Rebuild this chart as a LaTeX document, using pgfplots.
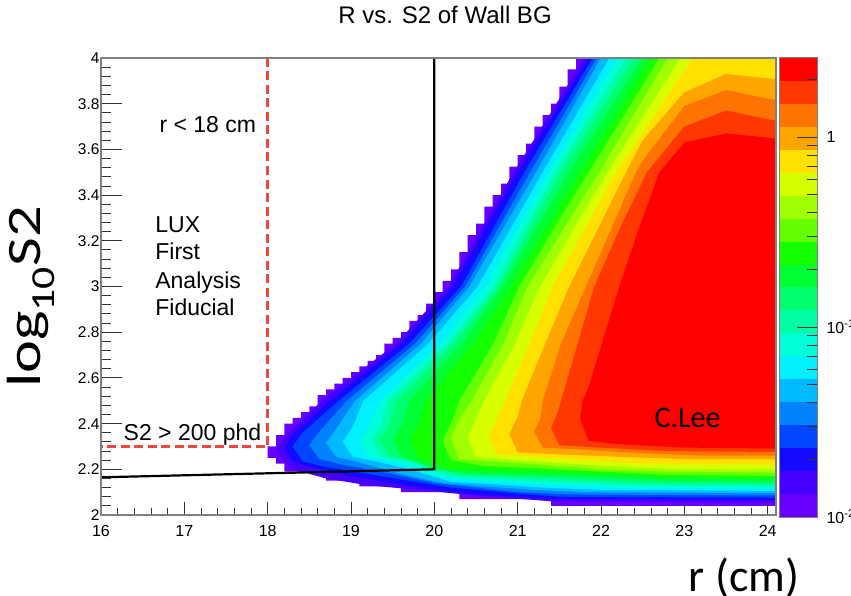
\documentclass[border=0pt]{standalone}
\usepackage{pgfplots}
\pgfplotsset{compat=1.18}
\usepackage{fontspec}
\setmainfont{Liberation Sans}
\newfontfamily\calfont{Carlito}
\definecolor{cA}{RGB}{105,0,255}
\definecolor{cB}{RGB}{70,0,255}
\definecolor{cC}{RGB}{20,10,255}
\definecolor{cD}{RGB}{0,70,255}
\definecolor{cE}{RGB}{0,130,255}
\definecolor{cF}{RGB}{0,185,255}
\definecolor{cG}{RGB}{0,240,255}
\definecolor{cH}{RGB}{0,255,215}
\definecolor{cI}{RGB}{0,255,165}
\definecolor{cJ}{RGB}{0,255,110}
\definecolor{cK}{RGB}{0,255,50}
\definecolor{cL}{RGB}{20,255,0}
\definecolor{cM}{RGB}{100,255,0}
\definecolor{cN}{RGB}{160,255,0}
\definecolor{cO}{RGB}{215,255,0}
\definecolor{cP}{RGB}{255,225,0}
\definecolor{cQ}{RGB}{255,165,0}
\definecolor{cR}{RGB}{255,115,0}
\definecolor{cS}{RGB}{255,55,0}
\definecolor{cT}{RGB}{255,0,0}
\definecolor{cutred}{RGB}{240,70,60}
\begin{document}
\begin{tikzpicture}
\begin{axis}[
 at={(101pt,80pt)}, anchor=south west, width=675pt, height=457pt, scale only axis,
 xmin=16, xmax=24.1, ymin=2, ymax=4,
 xtick={16,17,18,19,20,21,22,23,24},
 ytick={2,2.2,2.4,2.6,2.8,3,3.2,3.4,3.6,3.8,4},
 minor x tick num=4, minor y tick num=4,
 tick align=inside, xtick pos=left, ytick pos=left,
 xtick style={/pgfplots/major tick length=13pt,/pgfplots/minor tick length=7pt, black!80, line width=0.9pt},
 ytick style={/pgfplots/major tick length=21pt,/pgfplots/minor tick length=10pt, black!80, line width=0.9pt},
 axis line style={black!50, line width=1.2pt},
 /pgf/number format/assume math mode=true,
 xticklabel style={font=\fontsize{16}{16}\selectfont, yshift=-7pt},
 yticklabel style={font=\fontsize{15.5}{15.5}\selectfont, xshift=2pt},
 axis on top,
]
% level 1 (outermost, stepped edges)
\addplot[fill=cA, draw=none] coordinates {
(18.0,2.25) (18.1,2.25) (18.1,2.225) (18.2,2.225) (18.2,2.19) (18.7,2.19) (18.7,2.15) (19.1,2.15) (19.1,2.125) (19.6,2.125) (19.6,2.10) (20.3,2.10) (20.3,2.07) (21.4,2.07) (21.4,2.04) (24.3,2.04)
(24.3,4.3) (21.7,4.3) (21.7,3.95) (21.6,3.95) (21.6,3.875) (21.5,3.875) (21.5,3.8) (21.4,3.8) (21.4,3.75) (21.3,3.75) (21.3,3.7) (21.2,3.7) (21.2,3.625) (21.1,3.625) (21.1,3.575) (21.0,3.575) (21.0,3.525) (20.9,3.525) (20.9,3.45) (20.8,3.45) (20.8,3.4) (20.7,3.4) (20.7,3.35) (20.6,3.35) (20.6,3.275) (20.5,3.275) (20.5,3.225) (20.4,3.225) (20.4,3.15) (20.3,3.15) (20.3,3.075) (20.2,3.075) (20.2,3.025) (20.1,3.025) (20.1,2.975) (20.0,2.975) (20.0,2.925) (19.9,2.925) (19.9,2.875) (19.8,2.875) (19.8,2.85) (19.7,2.85) (19.7,2.8) (19.6,2.8) (19.6,2.775) (19.5,2.775) (19.5,2.75) (19.4,2.75) (19.4,2.7) (19.3,2.7) (19.3,2.675) (19.2,2.675) (19.2,2.65) (19.1,2.65) (19.1,2.625) (19.0,2.625) (19.0,2.6) (18.9,2.6) (18.9,2.575) (18.8,2.575) (18.8,2.55) (18.7,2.55) (18.7,2.525) (18.6,2.525) (18.6,2.475) (18.5,2.475) (18.5,2.45) (18.4,2.45) (18.4,2.425) (18.3,2.425) (18.3,2.4) (18.2,2.4) (18.2,2.35) (18.1,2.35) (18.1,2.3) (18.0,2.3)} -- cycle;
\addplot[fill=cB, draw=none] coordinates {
(18.18,2.24) (18.3,2.20) (18.7,2.16) (19.2,2.13) (19.8,2.11) (20.5,2.085) (21.4,2.06) (24.3,2.055)
(24.3,4.3) (21.8,4.3) (21.8,4.0) (21.38,3.75) (20.95,3.5) (20.56,3.25) (20.17,3.0) (19.54,2.75) (18.65,2.5) (18.2,2.34) (18.1,2.29)} -- cycle;
\addplot[fill=cC, draw=none] coordinates {
(18.3,2.235) (18.5,2.21) (19.0,2.17) (19.5,2.14) (20.0,2.11) (20.5,2.09) (21.4,2.07) (24.3,2.065)
(24.3,4.3) (21.85,4.3) (21.85,4.0) (21.43,3.75) (21.0,3.5) (20.61,3.25) (20.22,3.0) (19.61,2.75) (18.75,2.5) (18.3,2.35) (18.2,2.295)} -- cycle;
\addplot[fill=cD, draw=none] coordinates {
(18.42,2.235) (18.7,2.21) (19.2,2.18) (19.7,2.15) (20.2,2.12) (20.8,2.10) (21.5,2.08) (24.3,2.075)
(24.3,4.3) (21.9,4.3) (21.9,4.0) (21.49,3.75) (21.08,3.5) (20.7,3.25) (20.32,3.0) (19.7,2.75) (18.85,2.5) (18.42,2.36) (18.3,2.30)} -- cycle;
\addplot[fill=cE, draw=none] coordinates {
(18.62,2.245) (18.9,2.22) (19.5,2.18) (20.0,2.14) (20.5,2.12) (21.0,2.10) (21.6,2.09) (24.3,2.085)
(24.3,4.3) (21.95,4.3) (21.95,4.0) (21.55,3.75) (21.15,3.5) (20.76,3.25) (20.37,3.0) (19.77,2.75) (18.95,2.5) (18.62,2.365) (18.5,2.305)} -- cycle;
\addplot[fill=cF, draw=none] coordinates {
(18.82,2.255) (19.1,2.23) (19.6,2.18) (20.1,2.14) (20.6,2.125) (21.2,2.11) (21.8,2.10) (24.3,2.095)
(24.3,4.3) (22.0,4.3) (22.0,4.0) (21.61,3.75) (21.22,3.5) (20.82,3.25) (20.42,3.0) (19.84,2.75) (19.05,2.5) (18.82,2.375) (18.7,2.315)} -- cycle;
\addplot[fill=cG, draw=none] coordinates {
(19.02,2.255) (19.3,2.235) (19.7,2.20) (20.2,2.145) (20.7,2.135) (21.3,2.12) (22.0,2.11) (24.3,2.105)
(24.3,4.3) (22.1,4.3) (22.1,4.0) (21.7,3.75) (21.3,3.5) (20.91,3.25) (20.52,3.0) (19.93,2.75) (19.15,2.5) (19.02,2.385) (18.9,2.32)} -- cycle;
\addplot[fill=cH, draw=none] coordinates {
(19.22,2.255) (19.5,2.235) (20.0,2.17) (20.5,2.15) (21.0,2.14) (21.6,2.13) (22.2,2.12) (24.3,2.115)
(24.3,4.3) (22.2,4.3) (22.2,4.0) (21.79,3.75) (21.38,3.5) (21.0,3.25) (20.62,3.0) (20.07,2.75) (19.35,2.5) (19.22,2.385) (19.1,2.32)} -- cycle;
\addplot[fill=cI, draw=none] coordinates {
(19.37,2.255) (19.7,2.235) (20.2,2.17) (20.7,2.16) (21.2,2.15) (21.8,2.14) (22.4,2.13) (24.3,2.125)
(24.3,4.3) (22.3,4.3) (22.3,4.0) (21.88,3.75) (21.45,3.5) (21.08,3.25) (20.72,3.0) (20.17,2.75) (19.45,2.5) (19.37,2.395) (19.25,2.325)} -- cycle;
\addplot[fill=cJ, draw=none] coordinates {
(19.47,2.255) (19.8,2.235) (20.3,2.175) (20.8,2.17) (21.4,2.16) (22.0,2.15) (22.6,2.14) (24.3,2.135)
(24.3,4.3) (22.4,4.3) (22.4,4.0) (21.96,3.75) (21.52,3.5) (21.14,3.25) (20.77,3.0) (20.23,2.75) (19.55,2.5) (19.47,2.4) (19.35,2.33)} -- cycle;
\addplot[fill=cK, draw=none] coordinates {
(19.62,2.255) (20.0,2.20) (20.5,2.18) (21.0,2.175) (21.6,2.17) (22.2,2.16) (22.8,2.15) (24.3,2.145)
(24.3,4.3) (22.5,4.3) (22.5,4.0) (22.06,3.75) (21.62,3.5) (21.22,3.25) (20.82,3.0) (20.33,2.75) (19.7,2.5) (19.62,2.4) (19.5,2.33)} -- cycle;
\addplot[fill=cL, draw=none] coordinates {
(19.82,2.245) (20.2,2.20) (20.7,2.195) (21.3,2.19) (22.0,2.18) (22.8,2.165) (24.3,2.16)
(24.3,4.3) (22.6,4.3) (22.6,4.0) (22.18,3.75) (21.75,3.5) (21.33,3.25) (20.92,3.0) (20.47,2.75) (19.9,2.5) (19.82,2.4) (19.7,2.325)} -- cycle;
\addplot[fill=cM, draw=none] coordinates {
(20.2,2.24) (20.6,2.215) (21.2,2.205) (22.0,2.19) (22.8,2.175) (24.3,2.17)
(24.3,4.3) (22.7,4.3) (22.7,4.0) (22.28,3.75) (21.85,3.5) (21.43,3.25) (21.02,3.0) (20.71,2.75) (20.3,2.5) (20.2,2.4) (20.1,2.325)} -- cycle;
\addplot[fill=cN, draw=none] coordinates {
(20.3,2.245) (20.7,2.235) (21.3,2.22) (22.0,2.20) (22.8,2.19) (24.3,2.185)
(24.3,4.3) (22.8,4.3) (22.8,4.0) (22.39,3.75) (21.98,3.5) (21.55,3.25) (21.12,3.0) (20.83,2.75) (20.45,2.5) (20.3,2.42) (20.2,2.335)} -- cycle;
\addplot[fill=cO, draw=none] coordinates {
(20.5,2.255) (21.0,2.24) (21.6,2.225) (22.3,2.21) (23.0,2.20) (24.3,2.20)
(24.3,4.3) (22.95,4.3) (22.95,4.0) (22.52,3.75) (22.08,3.5) (21.67,3.25) (21.27,3.0) (20.97,2.75) (20.6,2.5) (20.5,2.42) (20.4,2.34)} -- cycle;
\addplot[fill=cP, draw=none] coordinates {
(20.75,2.265) (21.2,2.255) (21.8,2.24) (22.5,2.225) (24.3,2.22)
(24.3,4.3) (23.1,4.3) (23.1,4.0) (22.64,3.75) (22.18,3.5) (21.8,3.25) (21.42,3.0) (21.14,2.75) (20.85,2.5) (20.75,2.42) (20.65,2.345)} -- cycle;
\addplot[fill=cQ, draw=none] coordinates {
(21.0,2.275) (21.5,2.265) (22.2,2.255) (23.0,2.245) (24.3,2.245)
(24.3,3.9) (23.5,3.93) (23.0,3.85) (22.5,3.64) (22.3,3.5) (21.96,3.25) (21.62,3.0) (21.33,2.75) (21.05,2.5) (21.0,2.43) (20.9,2.355)} -- cycle;
\addplot[fill=cR, draw=none] coordinates {
(21.3,2.295) (21.8,2.285) (22.5,2.27) (23.2,2.26) (24.3,2.26)
(24.3,3.80) (23.5,3.86) (23.0,3.79) (22.5,3.55) (22.42,3.5) (22.12,3.25) (21.82,3.0) (21.52,2.75) (21.3,2.5) (21.28,2.43) (21.2,2.365)} -- cycle;
\addplot[fill=cS, draw=none] coordinates {
(21.5,2.305) (22.0,2.295) (22.8,2.28) (24.3,2.275)
(24.3,3.71) (23.5,3.77) (23.0,3.70) (22.55,3.5) (22.22,3.25) (21.92,3.0) (21.72,2.75) (21.52,2.5) (21.48,2.45) (21.4,2.38)} -- cycle;
\addplot[fill=cT, draw=none] coordinates {
(21.85,2.325) (22.2,2.31) (23.0,2.295) (24.3,2.29)
(24.3,3.64) (23.5,3.67) (23.0,3.63) (22.7,3.5) (22.45,3.25) (22.22,3.0) (22.01,2.75) (21.85,2.56) (21.78,2.5) (21.75,2.42)} -- cycle;
% cut lines
\addplot[cutred, line width=3pt, dash pattern=on 9pt off 4.5pt] coordinates {(18,4) (18,2.3) (16,2.3)};
\addplot[black, line width=2.2pt] coordinates {(20,4) (20,2.2) (16,2.165)};
% annotations
\node[anchor=base west, font=\fontsize{23}{23}\selectfont] at (axis cs:16.66,3.676) {r < 18 cm};
\node[anchor=base west, font=\fontsize{23}{23}\selectfont] at (axis cs:16.61,3.2385) {LUX};
\node[anchor=base west, font=\fontsize{23}{23}\selectfont] at (axis cs:16.61,3.116) {First};
\node[anchor=base west, font=\fontsize{23}{23}\selectfont] at (axis cs:16.61,2.993) {Analysis};
\node[anchor=base west, font=\fontsize{23}{23}\selectfont] at (axis cs:16.61,2.875) {Fiducial};
\node[anchor=base west, font=\fontsize{23}{23}\selectfont] at (axis cs:16.23,2.328) {S2 > 200 phd};
\node[anchor=base west, font=\calfont\fontsize{30}{30}\selectfont] at (axis cs:22.6,2.385) {C.Lee};
\end{axis}
% colour scale
\begin{axis}[
 at={(779pt,78pt)}, anchor=south west, width=38pt, height=459pt, scale only axis,
 xmin=0, xmax=1, ymin=-2, ymax=0.416,
 xtick=\empty, ytick={-2,-1,0},
 yticklabels={10\textsuperscript{-2},10\textsuperscript{-1},1},
 minor ytick={-1.699,-1.523,-1.398,-1.301,-1.222,-1.155,-1.097,-1.046,-0.699,-0.523,-0.398,-0.301,-0.222,-0.155,-0.097,-0.046,0.301},
 ytick pos=right, yticklabel pos=right, tick align=inside,
 major tick length=20pt, minor tick length=10pt,
 ytick style={black!80, line width=0.9pt},
 axis line style={black!50, line width=1pt},
 yticklabel style={font=\fontsize{16}{16}\selectfont, xshift=6pt},
 axis on top,
]
\addplot[fill=cA, draw=none] coordinates {(0,-2.0) (1,-2.0) (1,-1.8792) (0,-1.8792)} -- cycle;
\addplot[fill=cB, draw=none] coordinates {(0,-1.8792) (1,-1.8792) (1,-1.7584) (0,-1.7584)} -- cycle;
\addplot[fill=cC, draw=none] coordinates {(0,-1.7584) (1,-1.7584) (1,-1.6376) (0,-1.6376)} -- cycle;
\addplot[fill=cD, draw=none] coordinates {(0,-1.6376) (1,-1.6376) (1,-1.5168) (0,-1.5168)} -- cycle;
\addplot[fill=cE, draw=none] coordinates {(0,-1.5168) (1,-1.5168) (1,-1.396) (0,-1.396)} -- cycle;
\addplot[fill=cF, draw=none] coordinates {(0,-1.396) (1,-1.396) (1,-1.2752) (0,-1.2752)} -- cycle;
\addplot[fill=cG, draw=none] coordinates {(0,-1.2752) (1,-1.2752) (1,-1.1544) (0,-1.1544)} -- cycle;
\addplot[fill=cH, draw=none] coordinates {(0,-1.1544) (1,-1.1544) (1,-1.0336) (0,-1.0336)} -- cycle;
\addplot[fill=cI, draw=none] coordinates {(0,-1.0336) (1,-1.0336) (1,-0.9128) (0,-0.9128)} -- cycle;
\addplot[fill=cJ, draw=none] coordinates {(0,-0.9128) (1,-0.9128) (1,-0.792) (0,-0.792)} -- cycle;
\addplot[fill=cK, draw=none] coordinates {(0,-0.792) (1,-0.792) (1,-0.6712) (0,-0.6712)} -- cycle;
\addplot[fill=cL, draw=none] coordinates {(0,-0.6712) (1,-0.6712) (1,-0.5504) (0,-0.5504)} -- cycle;
\addplot[fill=cM, draw=none] coordinates {(0,-0.5504) (1,-0.5504) (1,-0.4296) (0,-0.4296)} -- cycle;
\addplot[fill=cN, draw=none] coordinates {(0,-0.4296) (1,-0.4296) (1,-0.3088) (0,-0.3088)} -- cycle;
\addplot[fill=cO, draw=none] coordinates {(0,-0.3088) (1,-0.3088) (1,-0.188) (0,-0.188)} -- cycle;
\addplot[fill=cP, draw=none] coordinates {(0,-0.188) (1,-0.188) (1,-0.0672) (0,-0.0672)} -- cycle;
\addplot[fill=cQ, draw=none] coordinates {(0,-0.0672) (1,-0.0672) (1,0.0536) (0,0.0536)} -- cycle;
\addplot[fill=cR, draw=none] coordinates {(0,0.0536) (1,0.0536) (1,0.1744) (0,0.1744)} -- cycle;
\addplot[fill=cS, draw=none] coordinates {(0,0.1744) (1,0.1744) (1,0.2952) (0,0.2952)} -- cycle;
\addplot[fill=cT, draw=none] coordinates {(0,0.2952) (1,0.2952) (1,0.416) (0,0.416)} -- cycle;
\end{axis}
% titles and axis names
\node[anchor=base, font=\fontsize{24}{24}\selectfont] at (445pt,571pt) {R vs. S2 of Wall BG};
\node[rotate=90, font=\calfont\fontsize{48}{48}\selectfont] at (31pt,298pt) {\scalebox{1.3}[1]{log\textsubscript{10}S2}};
\node[font=\calfont\fontsize{46}{46}\selectfont] at (744pt,17pt) {r (cm)};
\pgfresetboundingbox
\path[use as bounding box] (0pt,0pt) rectangle (851pt,595pt);
\end{tikzpicture}
\end{document}
